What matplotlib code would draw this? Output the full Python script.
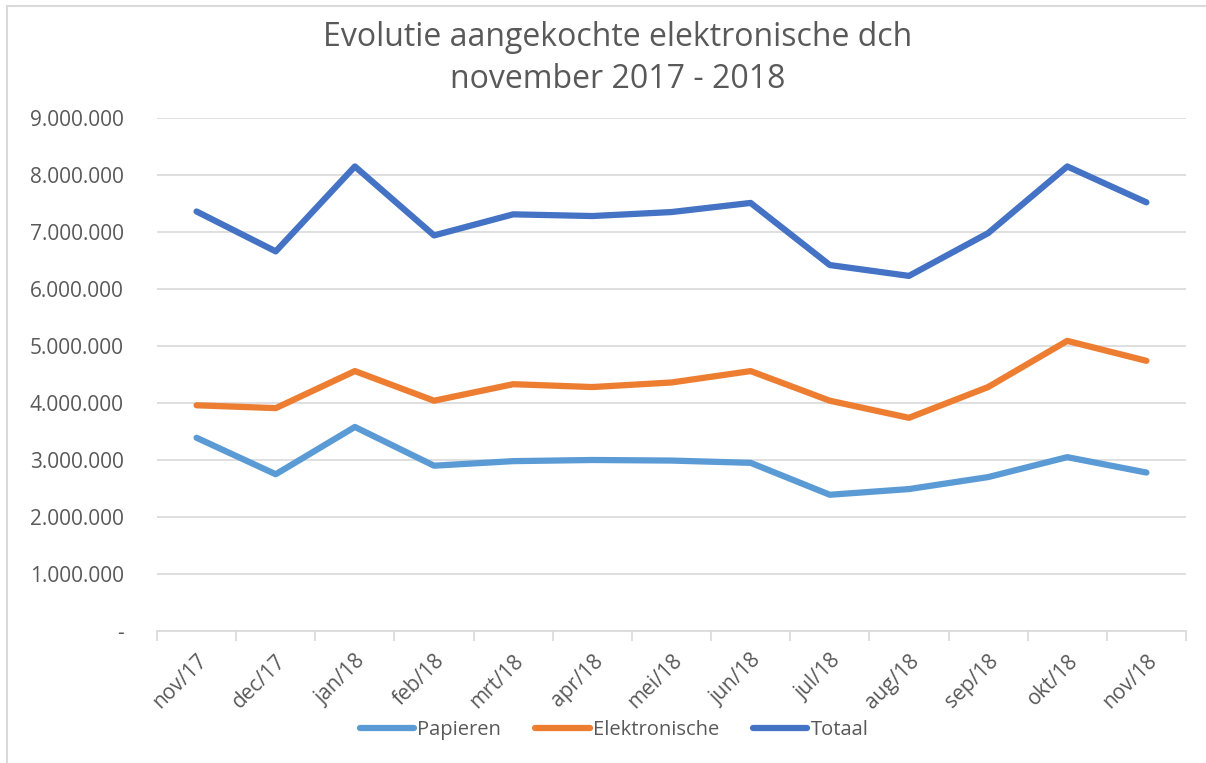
import matplotlib.pyplot as plt
from matplotlib.lines import Line2D
from matplotlib.ticker import FuncFormatter

plt.rcParams['font.family'] = ['Open Sans', 'DejaVu Sans']

maanden = ['nov/17', 'dec/17', 'jan/18', 'feb/18', 'mrt/18', 'apr/18', 'mei/18',
           'jun/18', 'jul/18', 'aug/18', 'sep/18', 'okt/18', 'nov/18']
papieren = [3390000, 2750000, 3580000, 2900000, 2980000, 3000000, 2990000,
            2950000, 2390000, 2490000, 2700000, 3050000, 2780000]
elektronische = [3960000, 3910000, 4560000, 4040000, 4330000, 4280000, 4360000,
                 4560000, 4040000, 3740000, 4280000, 5090000, 4740000]
totaal = [7360000, 6660000, 8150000, 6940000, 7310000, 7280000, 7350000,
          7510000, 6420000, 6230000, 6980000, 8150000, 7520000]

grijs = '#595959'
fig = plt.figure(figsize=(12.06, 7.63), dpi=100)
ax = fig.add_axes([157/1206, 1-631/763, (1186-157)/1206, (631-118)/763])

x = range(len(maanden))
ax.plot(x, papieren, color='#5B9BD5', lw=4.5, label='Papieren', solid_capstyle='round')
ax.plot(x, elektronische, color='#ED7D31', lw=4.5, label='Elektronische', solid_capstyle='round')
ax.plot(x, totaal, color='#4472C4', lw=4.5, label='Totaal', solid_capstyle='round')

ax.set_xlim(-0.5, len(maanden) - 0.5)
ax.set_ylim(0, 9000000)
ax.set_yticks(range(0, 9000001, 1000000))

def fmt(v, pos):
    if v == 0:
        return '-'
    return f'{int(v):,}'.replace(',', '.')

ax.yaxis.set_major_formatter(FuncFormatter(fmt))
ax.grid(axis='y', color='#D9D9D9', lw=1.2)
ax.set_axisbelow(True)
for s in ['top', 'right', 'left']:
    ax.spines[s].set_visible(False)
ax.spines['bottom'].set_color('#D9D9D9')
ax.spines['bottom'].set_linewidth(1.2)

ax.set_xticks(list(x))
ax.set_xticklabels(maanden, rotation=45, ha='right', rotation_mode='anchor',
                   fontsize=15, color=grijs)
ax.tick_params(axis='x', which='major', length=0, pad=14)
ax.set_xticks([i - 0.5 for i in range(len(maanden) + 1)], minor=True)
ax.tick_params(axis='x', which='minor', length=7, color='#D9D9D9', width=1.2)
ax.tick_params(axis='y', length=0, labelsize=15, labelcolor=grijs, pad=24)

fig.text(618/1206, 1 - 38/763, 'Evolutie aangekochte elektronische dch', ha='center',
         va='center', fontsize=23, color=grijs)
fig.text(618/1206, 1 - 80/763, 'november 2017 - 2018', ha='center',
         va='center', fontsize=23, color=grijs)

fig.legend(loc='center', bbox_to_anchor=(614/1206, 1 - 730/763), ncol=3, frameon=False,
           fontsize=14.5, labelcolor=grijs, handlelength=2.7, columnspacing=1.7,
           handletextpad=0.15)

fig.add_artist(Line2D([7/1206, 7/1206], [0, 1 - 6/763], transform=fig.transFigure,
                      color='#D9D9D9', lw=1.5))
fig.add_artist(Line2D([7/1206, 1], [1 - 6/763, 1 - 6/763], transform=fig.transFigure,
                      color='#D9D9D9', lw=1.5))

fig.savefig('out.png', dpi=100)
